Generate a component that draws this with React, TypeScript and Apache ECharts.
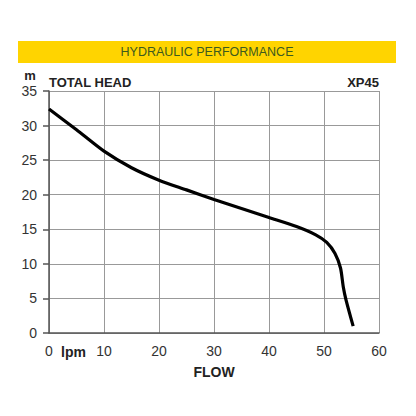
import { useEffect, useRef } from "react";
import * as echarts from "echarts";

// pump curve XP45
const FLOW = [0, 5, 10, 15, 20, 25, 30, 35, 40, 45, 48.5, 50.5, 52, 53, 53.5, 54, 55.3];
const HEAD = [32.4, 29.4, 26.3, 23.9, 22.1, 20.7, 19.3, 18.0, 16.7, 15.4, 14.2, 13.1, 11.5, 9.4, 6.7, 4.8, 1.0];

const X_MIN = 0;
const X_MAX = 60;
const X_STEP = 10;
const Y_MIN = 0;
const Y_MAX = 35;
const Y_STEP = 5;

const FONT = "'Liberation Sans', Arial, sans-serif";

export default function App() {
  const ref = useRef<HTMLDivElement>(null);

  useEffect(() => {
    document.body.style.margin = "0";
    if (!ref.current) return;
    const chart = echarts.init(ref.current, undefined, { renderer: "svg" });
    chart.setOption({
      animation: false,
      backgroundColor: "#fff",
      grid: { left: 49, right: 37, top: 91, bottom: 83 },
      xAxis: {
        type: "value",
        min: X_MIN,
        max: X_MAX,
        interval: X_STEP,
        axisLine: { show: true, lineStyle: { color: "#555", width: 1.5 } },
        axisTick: { show: false },
        axisLabel: { color: "#333", fontSize: 14, fontFamily: FONT, margin: 11 },
        splitLine: { show: true, lineStyle: { color: "#999", width: 1 } },
        name: "FLOW",
        nameLocation: "middle",
        nameGap: 32,
        nameTextStyle: { color: "#222", fontSize: 14, fontWeight: "bold", fontFamily: FONT },
      },
      yAxis: {
        type: "value",
        min: Y_MIN,
        max: Y_MAX,
        interval: Y_STEP,
        axisLine: { show: true, onZero: false, lineStyle: { color: "#555", width: 1.5 } },
        axisTick: { show: true, length: 6, lineStyle: { color: "#555", width: 1.5 } },
        axisLabel: { color: "#333", fontSize: 14, fontFamily: FONT, margin: 12 },
        splitLine: { show: true, lineStyle: { color: "#999", width: 1 } },
      },
      graphic: [
        {
          type: "rect",
          shape: { x: 18, y: 41, width: 378, height: 22 },
          style: { fill: "#FFD400" },
        },
        {
          type: "text",
          x: 207,
          y: 52,
          style: {
            text: "HYDRAULIC PERFORMANCE",
            fill: "#3d5a1e",
            font: `12.5px ${FONT}`,
            align: "center",
            verticalAlign: "middle",
          },
        },
        {
          type: "text",
          x: 30,
          y: 75,
          style: { text: "m", fill: "#222", font: `bold 13px ${FONT}`, align: "center", verticalAlign: "middle" },
        },
        {
          type: "text",
          x: 49,
          y: 82.5,
          style: { text: "TOTAL HEAD", fill: "#222", font: `bold 13px ${FONT}`, align: "left", verticalAlign: "middle" },
        },
        {
          type: "text",
          x: 379,
          y: 82.5,
          style: { text: "XP45", fill: "#222", font: `bold 13px ${FONT}`, align: "right", verticalAlign: "middle" },
        },
        {
          type: "text",
          x: 61,
          y: 352,
          style: { text: "lpm", fill: "#222", font: `bold 14px ${FONT}`, align: "left", verticalAlign: "middle" },
        },
      ],
      series: [
        {
          type: "line",
          data: FLOW.map((f, i) => [f, HEAD[i]]),
          smooth: 0.25,
          showSymbol: false,
          lineStyle: { color: "#000", width: 3.2 },
        },
      ],
    });
    return () => chart.dispose();
  }, []);

  return <div ref={ref} style={{ width: 416, height: 416 }} />;
}
